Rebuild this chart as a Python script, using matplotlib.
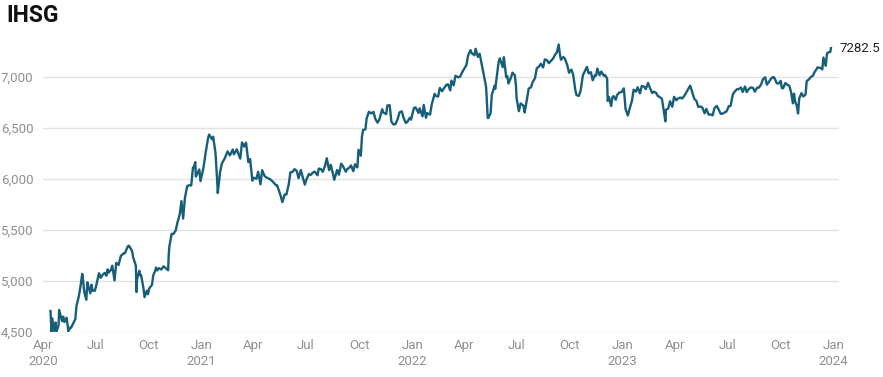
import datetime
import numpy as np
import matplotlib
matplotlib.use("Agg")
import matplotlib.pyplot as plt
import matplotlib.dates as mdates
from matplotlib.ticker import FuncFormatter

# IHSG closing levels (date, level)
ihsg_2020 = [
    ("2020-04-14", 4706), ("2020-04-16", 4480), ("2020-04-17", 4634), ("2020-04-21", 4501),
    ("2020-04-23", 4593), ("2020-04-24", 4496), ("2020-04-28", 4567), ("2020-04-29", 4716),
    ("2020-05-04", 4606), ("2020-05-06", 4651), ("2020-05-08", 4597), ("2020-05-12", 4640),
    ("2020-05-14", 4550), ("2020-05-15", 4507), ("2020-05-19", 4548), ("2020-05-20", 4545),
    ("2020-05-27", 4626), ("2020-05-29", 4754), ("2020-06-02", 4848), ("2020-06-04", 4916),
    ("2020-06-05", 4948), ("2020-06-08", 5070), ("2020-06-09", 5035), ("2020-06-11", 4920),
    ("2020-06-12", 4880), ("2020-06-15", 4816), ("2020-06-17", 4987), ("2020-06-19", 4942),
    ("2020-06-22", 4879), ("2020-06-24", 4964), ("2020-06-26", 4904), ("2020-06-30", 4905),
    ("2020-07-03", 4974), ("2020-07-07", 5076), ("2020-07-09", 5052), ("2020-07-10", 5031),
    ("2020-07-14", 5064), ("2020-07-17", 5079), ("2020-07-20", 5051), ("2020-07-22", 5114),
    ("2020-07-24", 5082), ("2020-07-28", 5112), ("2020-07-30", 5149), ("2020-08-03", 5006),
    ("2020-08-06", 5178), ("2020-08-10", 5157), ("2020-08-14", 5247), ("2020-08-19", 5272),
    ("2020-08-21", 5272), ("2020-08-26", 5339), ("2020-08-28", 5346), ("2020-09-01", 5310),
    ("2020-09-03", 5280), ("2020-09-04", 5239), ("2020-09-09", 5149), ("2020-09-10", 4892),
    ("2020-09-11", 5017), ("2020-09-15", 5100), ("2020-09-16", 5058), ("2020-09-18", 5059),
    ("2020-09-22", 4934), ("2020-09-24", 4842), ("2020-09-28", 4906), ("2020-09-30", 4870),
    ("2020-10-02", 4926), ("2020-10-07", 4963), ("2020-10-09", 5053), ("2020-10-12", 5093),
    ("2020-10-14", 5132), ("2020-10-16", 5103), ("2020-10-19", 5126), ("2020-10-23", 5112),
    ("2020-10-27", 5144), ("2020-11-02", 5115), ("2020-11-04", 5105), ("2020-11-05", 5260),
    ("2020-11-06", 5335), ("2020-11-10", 5462), ("2020-11-13", 5461), ("2020-11-17", 5494),
    ("2020-11-20", 5571), ("2020-11-24", 5652), ("2020-11-27", 5783), ("2020-11-30", 5612),
    ("2020-12-03", 5813), ("2020-12-07", 5930), ("2020-12-10", 5938), ("2020-12-14", 5937),
    ("2020-12-17", 6113), ("2020-12-18", 6104), ("2020-12-21", 6165), ("2020-12-22", 6023),
    ("2020-12-28", 6093), ("2020-12-30", 5979),
]
ihsg_2021 = [
    ("2021-01-04", 6104), ("2021-01-08", 6257), ("2021-01-12", 6395), ("2021-01-14", 6435),
    ("2021-01-19", 6389), ("2021-01-21", 6414), ("2021-01-25", 6258), ("2021-01-28", 5979),
    ("2021-01-29", 5862), ("2021-02-02", 6067), ("2021-02-05", 6151), ("2021-02-10", 6201),
    ("2021-02-15", 6270), ("2021-02-19", 6231), ("2021-02-24", 6289), ("2021-02-26", 6242),
    ("2021-03-03", 6290), ("2021-03-05", 6258), ("2021-03-09", 6200), ("2021-03-12", 6358),
    ("2021-03-16", 6317), ("2021-03-19", 6356), ("2021-03-23", 6166), ("2021-03-26", 6195),
    ("2021-03-30", 5984), ("2021-04-01", 6012), ("2021-04-06", 6002), ("2021-04-09", 6070),
    ("2021-04-13", 5948), ("2021-04-16", 6086), ("2021-04-20", 6030), ("2021-04-23", 6016),
    ("2021-04-27", 6004), ("2021-04-30", 5996), ("2021-05-05", 5970), ("2021-05-10", 5938),
    ("2021-05-12", 5938), ("2021-05-18", 5835), ("2021-05-21", 5773), ("2021-05-25", 5848),
    ("2021-05-28", 5848), ("2021-06-01", 5947), ("2021-06-04", 6065), ("2021-06-08", 6070),
    ("2021-06-11", 6096), ("2021-06-15", 6078), ("2021-06-18", 6007), ("2021-06-22", 6088),
    ("2021-06-25", 6022), ("2021-06-29", 5944), ("2021-07-01", 5985), ("2021-07-06", 6048),
    ("2021-07-09", 6039), ("2021-07-13", 6063), ("2021-07-16", 6072), ("2021-07-21", 6036),
    ("2021-07-23", 6102), ("2021-07-27", 6096), ("2021-07-30", 6070), ("2021-08-03", 6130),
    ("2021-08-06", 6203), ("2021-08-10", 6086), ("2021-08-13", 6139), ("2021-08-19", 5992),
    ("2021-08-24", 6089), ("2021-08-27", 6041), ("2021-08-31", 6150), ("2021-09-03", 6126),
    ("2021-09-08", 6071), ("2021-09-10", 6094), ("2021-09-14", 6110), ("2021-09-17", 6133),
    ("2021-09-21", 6076), ("2021-09-24", 6144), ("2021-09-28", 6113), ("2021-09-30", 6286),
    ("2021-10-04", 6228), ("2021-10-06", 6417), ("2021-10-08", 6481), ("2021-10-12", 6486),
    ("2021-10-14", 6591), ("2021-10-18", 6658), ("2021-10-22", 6643), ("2021-10-26", 6657),
    ("2021-10-29", 6591), ("2021-11-02", 6552), ("2021-11-05", 6581), ("2021-11-10", 6683),
    ("2021-11-12", 6651), ("2021-11-17", 6636), ("2021-11-19", 6720), ("2021-11-23", 6723),
    ("2021-11-26", 6561), ("2021-11-30", 6533), ("2021-12-03", 6538), ("2021-12-07", 6589),
    ("2021-12-10", 6652), ("2021-12-14", 6663), ("2021-12-17", 6601), ("2021-12-21", 6549),
    ("2021-12-24", 6562), ("2021-12-28", 6600), ("2021-12-30", 6581),
]
ihsg_2022 = [
    ("2022-01-04", 6695), ("2022-01-07", 6701), ("2022-01-12", 6647), ("2022-01-14", 6693),
    ("2022-01-19", 6614), ("2022-01-21", 6726), ("2022-01-25", 6600), ("2022-01-27", 6645),
    ("2022-02-01", 6631), ("2022-02-04", 6732), ("2022-02-09", 6834), ("2022-02-11", 6815),
    ("2022-02-15", 6807), ("2022-02-18", 6892), ("2022-02-22", 6860), ("2022-02-25", 6888),
    ("2022-03-01", 6921), ("2022-03-04", 6928), ("2022-03-08", 6868), ("2022-03-10", 6964),
    ("2022-03-14", 6918), ("2022-03-17", 7011), ("2022-03-22", 6996), ("2022-03-25", 7002),
    ("2022-03-29", 7049), ("2022-04-01", 7078), ("2022-04-05", 7116), ("2022-04-08", 7210),
    ("2022-04-12", 7262), ("2022-04-14", 7235), ("2022-04-19", 7212), ("2022-04-21", 7276),
    ("2022-04-25", 7196), ("2022-04-28", 7228), ("2022-05-09", 6909), ("2022-05-10", 6819),
    ("2022-05-12", 6599), ("2022-05-13", 6597), ("2022-05-17", 6644), ("2022-05-19", 6823),
    ("2022-05-24", 6914), ("2022-05-25", 6883), ("2022-05-31", 7149), ("2022-06-02", 7182),
    ("2022-06-07", 7096), ("2022-06-09", 7193), ("2022-06-13", 6998), ("2022-06-15", 7007),
    ("2022-06-17", 6936), ("2022-06-21", 6989), ("2022-06-24", 7042), ("2022-06-28", 7016),
    ("2022-06-30", 6911), ("2022-07-01", 6794), ("2022-07-05", 6664), ("2022-07-08", 6740),
    ("2022-07-13", 6718), ("2022-07-15", 6652), ("2022-07-19", 6781), ("2022-07-22", 6886),
    ("2022-07-26", 6898), ("2022-07-29", 6951), ("2022-08-02", 6988), ("2022-08-05", 7084),
    ("2022-08-09", 7102), ("2022-08-12", 7129), ("2022-08-16", 7093), ("2022-08-19", 7172),
    ("2022-08-23", 7163), ("2022-08-26", 7135), ("2022-08-30", 7159), ("2022-09-02", 7178),
    ("2022-09-07", 7229), ("2022-09-09", 7242), ("2022-09-12", 7318), ("2022-09-14", 7226),
    ("2022-09-16", 7168), ("2022-09-20", 7196), ("2022-09-23", 7178), ("2022-09-27", 7112),
    ("2022-09-30", 7041), ("2022-10-04", 7072), ("2022-10-07", 7026), ("2022-10-11", 6867),
    ("2022-10-13", 6822), ("2022-10-17", 6814), ("2022-10-20", 6864), ("2022-10-24", 7017),
    ("2022-10-27", 7052), ("2022-10-31", 7098), ("2022-11-03", 7035), ("2022-11-07", 7046),
    ("2022-11-10", 6967), ("2022-11-14", 7019), ("2022-11-16", 7014), ("2022-11-18", 7082),
    ("2022-11-22", 7017), ("2022-11-25", 7053), ("2022-11-29", 7013), ("2022-12-01", 7020),
    ("2022-12-05", 6986), ("2022-12-06", 6765), ("2022-12-08", 6804), ("2022-12-12", 6715),
    ("2022-12-14", 6800), ("2022-12-16", 6812), ("2022-12-20", 6776), ("2022-12-22", 6820),
    ("2022-12-26", 6847), ("2022-12-30", 6851),
]
ihsg_2023 = [
    ("2023-01-03", 6888), ("2023-01-06", 6684), ("2023-01-10", 6622), ("2023-01-13", 6689),
    ("2023-01-17", 6766), ("2023-01-20", 6875), ("2023-01-24", 6856), ("2023-01-27", 6899),
    ("2023-01-31", 6839), ("2023-02-03", 6911), ("2023-02-07", 6906), ("2023-02-10", 6880),
    ("2023-02-14", 6941), ("2023-02-17", 6895), ("2023-02-21", 6843), ("2023-02-24", 6856),
    ("2023-02-28", 6843), ("2023-03-03", 6813), ("2023-03-07", 6799), ("2023-03-10", 6786),
    ("2023-03-14", 6642), ("2023-03-16", 6565), ("2023-03-17", 6678), ("2023-03-21", 6691),
    ("2023-03-24", 6762), ("2023-03-28", 6708), ("2023-03-31", 6805), ("2023-04-04", 6771),
    ("2023-04-06", 6786), ("2023-04-11", 6798), ("2023-04-14", 6788), ("2023-04-18", 6816),
    ("2023-04-28", 6915), ("2023-05-03", 6825), ("2023-05-05", 6787), ("2023-05-09", 6762),
    ("2023-05-12", 6707), ("2023-05-16", 6710), ("2023-05-19", 6700), ("2023-05-23", 6644),
    ("2023-05-26", 6687), ("2023-05-30", 6631), ("2023-06-02", 6633), ("2023-06-06", 6623),
    ("2023-06-09", 6694), ("2023-06-13", 6716), ("2023-06-15", 6696), ("2023-06-20", 6638),
    ("2023-06-23", 6640), ("2023-06-27", 6652), ("2023-06-30", 6662), ("2023-07-04", 6713),
    ("2023-07-07", 6716), ("2023-07-11", 6830), ("2023-07-14", 6855), ("2023-07-18", 6879),
    ("2023-07-21", 6880), ("2023-07-25", 6896), ("2023-07-28", 6853), ("2023-08-01", 6906),
    ("2023-08-04", 6852), ("2023-08-08", 6883), ("2023-08-11", 6897), ("2023-08-15", 6893),
    ("2023-08-18", 6855), ("2023-08-22", 6894), ("2023-08-25", 6895), ("2023-08-29", 6926),
    ("2023-09-01", 6977), ("2023-09-05", 6996), ("2023-09-08", 6924), ("2023-09-12", 6955),
    ("2023-09-15", 6982), ("2023-09-19", 7000), ("2023-09-21", 6991), ("2023-09-25", 6939),
    ("2023-09-28", 6935), ("2023-10-02", 6961), ("2023-10-04", 6890), ("2023-10-06", 6888),
    ("2023-10-10", 6940), ("2023-10-13", 6926), ("2023-10-17", 6911), ("2023-10-20", 6849),
    ("2023-10-23", 6741), ("2023-10-25", 6836), ("2023-10-27", 6758), ("2023-10-30", 6716),
    ("2023-11-01", 6642), ("2023-11-03", 6788), ("2023-11-07", 6842), ("2023-11-10", 6809),
    ("2023-11-14", 6827), ("2023-11-16", 6958), ("2023-11-20", 6977), ("2023-11-23", 6999),
    ("2023-11-27", 7013), ("2023-11-29", 7041), ("2023-12-01", 7059), ("2023-12-05", 7094),
    ("2023-12-07", 7089), ("2023-12-11", 7088), ("2023-12-13", 7073), ("2023-12-15", 7190),
    ("2023-12-19", 7109), ("2023-12-21", 7219), ("2023-12-22", 7237), ("2023-12-27", 7246),
    ("2023-12-28", 7282.5),
]

y_ticks = [4500, 5000, 5500, 6000, 6500, 7000]

rows = ihsg_2020 + ihsg_2021 + ihsg_2022 + ihsg_2023
dates = [datetime.datetime.strptime(d, "%Y-%m-%d") for d, _ in rows]
values = np.array([v for _, v in rows])

plt.rcParams['font.family'] = ['Roboto', 'DejaVu Sans']

fig = plt.figure(figsize=(8.83, 3.77), dpi=100)
ax = fig.add_axes([43 / 883, 1 - 332 / 377, (839 - 43) / 883, (332 - 40) / 377])

line_color = "#175e78"
ax.plot(dates, values, color=line_color, lw=1.7, solid_joinstyle="round")

ax.set_xlim(datetime.datetime(2020, 4, 1), datetime.datetime(2024, 1, 11))
ax.set_ylim(4500, 7362)

ax.set_yticks(y_ticks)
ax.yaxis.set_major_formatter(FuncFormatter(lambda v, p: f"{int(v):,}"))
ax.grid(axis="y", color="#e3e3e3", lw=1)
ax.set_axisbelow(True)

ax.xaxis.set_major_locator(mdates.MonthLocator(bymonth=[1, 4, 7, 10]))

def month_fmt(x, pos):
    d = mdates.num2date(x)
    if d.month == 1 or pos == 0:
        return d.strftime("%b") + "\n" + str(d.year)
    return d.strftime("%b")

ax.xaxis.set_major_formatter(FuncFormatter(month_fmt))

for s in ax.spines.values():
    s.set_visible(False)
ax.tick_params(axis="both", length=0, labelsize=9.5, colors="#8f8f8f")
ax.tick_params(axis="x", pad=5)
ax.tick_params(axis="y", pad=7)
for lbl in ax.get_xticklabels():
    lbl.set_linespacing(1.3)

# last value label
ax.annotate(f"{values[-1]:.1f}", xy=(dates[-1], values[-1]), xytext=(6, 0),
            textcoords="offset points", fontsize=9.5, color="#222222",
            va="center", ha="left", annotation_clip=False)

fig.text(6 / 883, 1 - 16 / 377, "IHSG", fontsize=16.5, fontweight="bold",
         color="#111111", va="center", ha="left")

fig.savefig("out.png", dpi=100)
